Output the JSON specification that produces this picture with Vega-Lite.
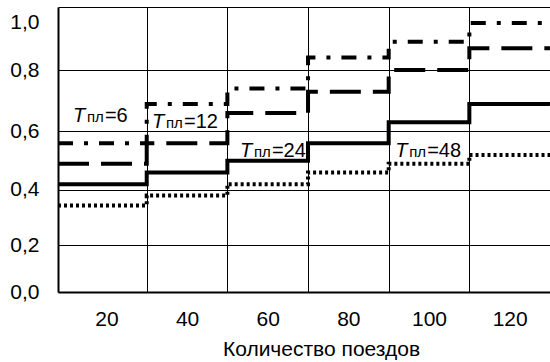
{
  "$schema": "https://vega.github.io/schema/vega-lite/v6.json",
  "width": 492,
  "height": 285,
  "autosize": {"type": "none"},
  "padding": {"left": 58, "top": 7, "right": 0, "bottom": 70},
  "background": "white",
  "config": {
    "font": "Liberation Sans",
    "view": {"stroke": null},
    "axis": {
      "domainColor": "black",
      "domainWidth": 2,
      "gridColor": "black",
      "gridWidth": 1,
      "labelFont": "Liberation Sans",
      "labelFontSize": 21,
      "labelColor": "black",
      "titleFont": "Liberation Sans",
      "titleFontSize": 21,
      "titleFontWeight": "normal",
      "titleColor": "black",
      "ticks": false
    }
  },
  "datasets": {
    "lines": [
      {"x": 8, "v": 0.56, "s": "6"}, {"x": 30, "v": 0.69, "s": "6"}, {"x": 50, "v": 0.74, "s": "6"}, {"x": 70, "v": 0.84, "s": "6"}, {"x": 90, "v": 0.89, "s": "6"}, {"x": 110, "v": 0.95, "s": "6"}, {"x": 130, "v": 0.95, "s": "6"},
      {"x": 8, "v": 0.49, "s": "12"}, {"x": 30, "v": 0.56, "s": "12"}, {"x": 50, "v": 0.66, "s": "12"}, {"x": 70, "v": 0.73, "s": "12"}, {"x": 90, "v": 0.80, "s": "12"}, {"x": 110, "v": 0.87, "s": "12"}, {"x": 130, "v": 0.87, "s": "12"},
      {"x": 8, "v": 0.42, "s": "24"}, {"x": 30, "v": 0.46, "s": "24"}, {"x": 50, "v": 0.50, "s": "24"}, {"x": 70, "v": 0.56, "s": "24"}, {"x": 90, "v": 0.63, "s": "24"}, {"x": 110, "v": 0.69, "s": "24"}, {"x": 130, "v": 0.69, "s": "24"},
      {"x": 8, "v": 0.345, "s": "48"}, {"x": 30, "v": 0.38, "s": "48"}, {"x": 50, "v": 0.42, "s": "48"}, {"x": 70, "v": 0.46, "s": "48"}, {"x": 90, "v": 0.49, "s": "48"}, {"x": 110, "v": 0.52, "s": "48"}, {"x": 130, "v": 0.52, "s": "48"}
    ],
    "labels": [
      {"x": 11.7, "v": 0.63, "t": "=6"},
      {"x": 31.3, "v": 0.61, "t": "=12"},
      {"x": 53.1, "v": 0.513, "t": "=24"},
      {"x": 91.6, "v": 0.513, "t": "=48"}
    ]
  },
  "encoding": {
    "x": {
      "field": "x",
      "type": "quantitative",
      "scale": {"domain": [8, 130], "nice": false, "zero": false},
      "axis": {
        "values": [20, 30, 40, 50, 60, 70, 80, 90, 100, 110, 120],
        "labelExpr": "datum.value % 20 == 0 ? datum.label : ''",
        "labelOverlap": false,
        "labelPadding": 16,
        "grid": true,
        "gridOpacity": {"condition": {"test": "datum.value % 20 == 10", "value": 1}, "value": 0},
        "title": "Количество поездов",
        "titleX": 263,
        "titleY": 63,
        "titleBaseline": "alphabetic"
      }
    },
    "y": {
      "field": "v",
      "type": "quantitative",
      "scale": {"type": "pow", "exponent": 1.12, "domain": [0, 1], "nice": false, "zero": true},
      "axis": {
        "values": [0, 0.2, 0.4, 0.6, 0.8, 1],
        "labelExpr": "replace(format(datum.value, '.1f'), '.', ',')",
        "labelPadding": 19,
        "labelOffset": {"condition": {"test": "datum.value == 1", "value": 15}, "value": 0},
        "grid": true,
        "title": null
      }
    }
  },
  "layer": [
    {
      "data": {"name": "lines"},
      "mark": {"type": "line", "interpolate": "step-after", "clip": true, "color": "black"},
      "encoding": {
        "detail": {"field": "s", "type": "nominal"},
        "strokeDash": {"field": "s", "type": "nominal", "scale": {"domain": ["6", "12", "24", "48"], "range": [[15, 11, 4, 11], [31, 12], [1, 0], [3, 3]]}, "legend": null},
        "strokeWidth": {"field": "s", "type": "ordinal", "scale": {"domain": ["6", "12", "24", "48"], "range": [4, 4, 3.5, 3.5]}, "legend": null}
      }
    },
    {
      "data": {"name": "labels"},
      "mark": {"type": "text", "align": "left", "baseline": "alphabetic", "fontSize": 20, "fontStyle": "italic", "color": "black"},
      "encoding": {"text": {"value": "T"}}
    },
    {
      "data": {"name": "labels"},
      "mark": {"type": "text", "align": "left", "baseline": "alphabetic", "fontSize": 15, "dx": 14, "color": "black"},
      "encoding": {"text": {"value": "пл"}}
    },
    {
      "data": {"name": "labels"},
      "mark": {"type": "text", "align": "left", "baseline": "alphabetic", "fontSize": 20, "dx": 32, "color": "black"},
      "encoding": {"text": {"field": "t", "type": "nominal"}}
    }
  ]
}
